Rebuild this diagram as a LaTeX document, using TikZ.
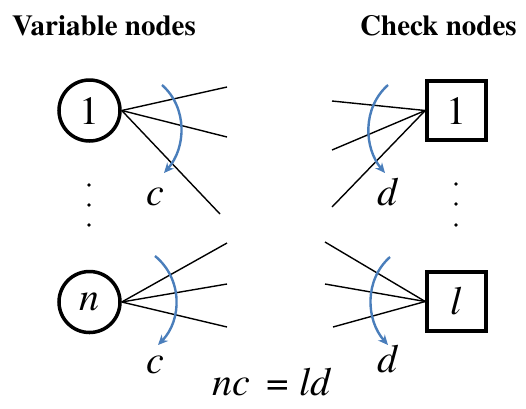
\documentclass[tikz,border=0pt]{standalone}
\usepackage{fontspec}
\setmainfont{texgyretermes}[Extension=.otf, UprightFont=*-regular, BoldFont=*-bold, ItalicFont=*-italic, BoldItalicFont=*-bolditalic]
\usepackage{xcolor}
\usetikzlibrary{arrows.meta}
\definecolor{arcblue}{RGB}{74,126,187}

\begin{document}
\begin{tikzpicture}[
    x=1pt, y=-1pt,
    varnode/.style={circle, draw, line width=3.5pt, minimum size=61pt, inner sep=0pt, font=\fontsize{40}{40}\selectfont},
    chknode/.style={rectangle, draw, line width=3.5pt, minimum size=59pt, inner sep=0pt, font=\fontsize{40}{40}\selectfont},
    title/.style={anchor=base west, inner sep=0pt, font=\fontsize{29}{29}\selectfont\bfseries},
    degree/.style={anchor=base, inner sep=0pt, font=\fontsize{40}{40}\selectfont\itshape},
    link/.style={line width=1.4pt},
    turn/.style={-{Stealth[length=10pt,width=9pt]}, line width=2.4pt, draw=arcblue},
    dot/.style={circle, fill, inner sep=0pt, minimum size=3.6pt},
]
\useasboundingbox (0,0) rectangle (526,408);

% headings
\node[title] (vtitle) at (12,35) {Variable nodes};
\node[title] (ctitle) at (360,35) {Check nodes};

% nodes
\node[varnode] (v1) at (89.5,110.5) {1};
\node[varnode] (vn) at (89.5,302) {\itshape n};
\node[chknode] (c1) at (456.5,110.5) {1};
\node[chknode] (cl) at (456.5,301.5) {\itshape l};

% loose edge ends
\coordinate (v1a) at (227,87);
\coordinate (v1b) at (227,137);
\coordinate (v1c) at (220,214);
\coordinate (vna) at (227,243);
\coordinate (vnb) at (227,284);
\coordinate (vnc) at (227,327);
\coordinate (c1a) at (332,101);
\coordinate (c1b) at (332,150);
\coordinate (c1c) at (332,207);
\coordinate (cla) at (325,242);
\coordinate (clb) at (325,284);
\coordinate (clc) at (333,327);

\draw[link] (v1.east) -- (v1a);
\draw[link] (v1.east) -- (v1b);
\draw[link] (v1.east) -- (v1c);
\draw[link] (vn.east) -- (vna);
\draw[link] (vn.east) -- (vnb);
\draw[link] (vn.east) -- (vnc);
\draw[link] (c1.west) -- (c1a);
\draw[link] (c1.west) -- (c1b);
\draw[link] (c1.west) -- (c1c);
\draw[link] (cl.west) -- (cla);
\draw[link] (cl.west) -- (clb);
\draw[link] (cl.west) -- (clc);

% degree arcs
\coordinate (v1s) at (162,85);
\coordinate (v1e) at (164,173);
\coordinate (vns) at (155,256);
\coordinate (vne) at (158,345);
\coordinate (c1s) at (388,85);
\coordinate (c1e) at (385,173);
\coordinate (cls) at (390,257);
\coordinate (cle) at (388,345);
\draw[turn] (v1s) .. controls (188,108) and (186,148) .. (v1e);
\draw[turn] (vns) .. controls (183,279) and (182,320) .. (vne);
\draw[turn] (c1s) .. controls (362,108) and (364,148) .. (c1e);
\draw[turn] (cls) .. controls (364,280) and (366,320) .. (cle);

\node[degree] (dv1) at (155,205) {c};
\node[degree] (dvn) at (155,373) {c};
\node[degree] (dc1) at (387,205) {d};
\node[degree] (dcl) at (387,372) {d};

% vertical dots
\node[dot] (vd1) at (89,185) {};
\node[dot] (vd2) at (89,205) {};
\node[dot] (vd3) at (89,225) {};
\node[dot] (cd1) at (456,184) {};
\node[dot] (cd2) at (456,204) {};
\node[dot] (cd3) at (456,225) {};

% relation
\node[anchor=base, inner sep=0pt, font=\fontsize{40}{40}\selectfont] (rel) at (272,395) {\textit{nc}\, = \textit{ld}};
\end{tikzpicture}
\end{document}
